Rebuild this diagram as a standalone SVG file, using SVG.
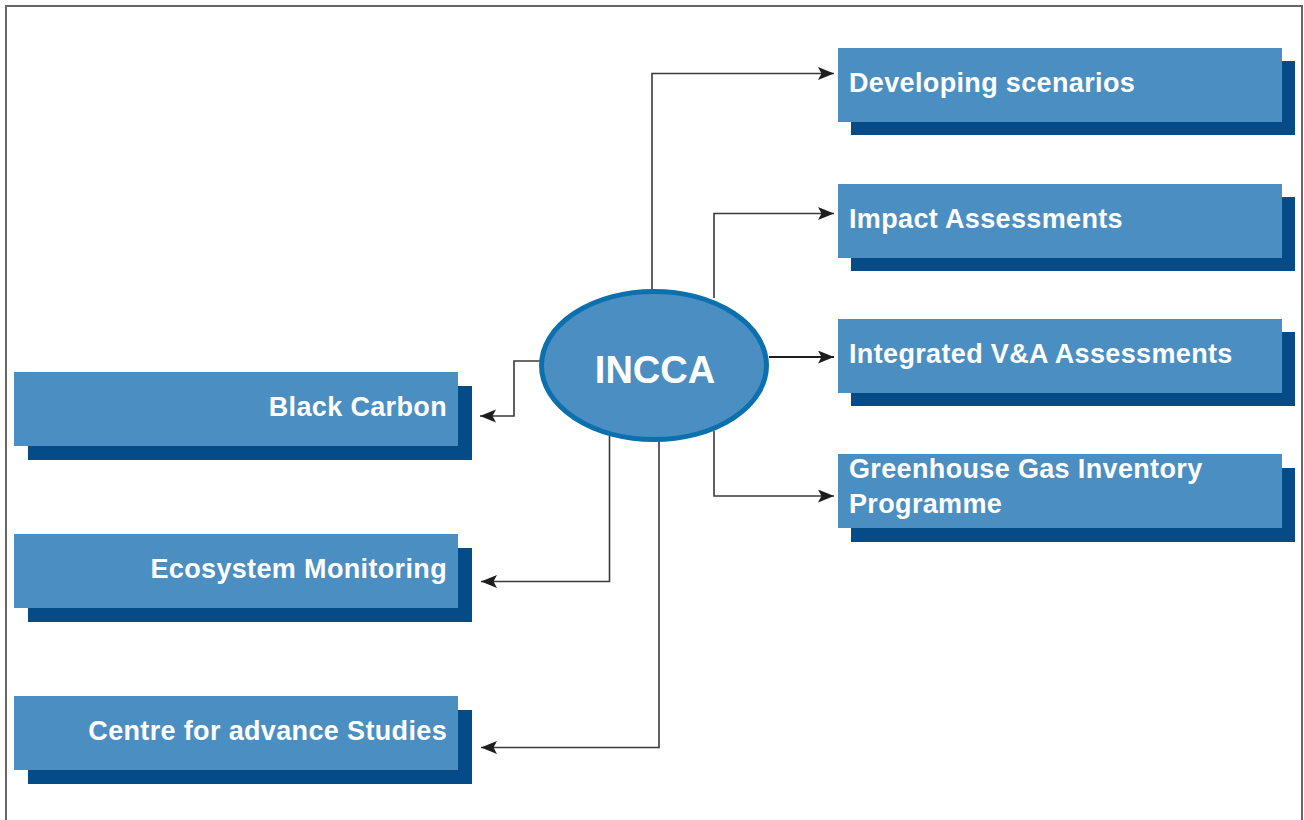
<svg xmlns="http://www.w3.org/2000/svg" width="1304" height="820" viewBox="0 0 1304 820">
  <defs>
    <style>
      .shadow { fill: #044b87; }
      .box { fill: #4b8ec2; }
      .lbl { font-family: "Liberation Sans", Arial, sans-serif; font-weight: bold; font-size: 27px; fill: #ffffff; letter-spacing: 0.35px; }
      .r { text-anchor: end; }
      .conn { fill: none; stroke: #3a3a3a; stroke-width: 1.6; }
      .thick { stroke: #1e1e1e; stroke-width: 2.2; }
    </style>
    <marker id="arr" markerUnits="userSpaceOnUse" markerWidth="18" markerHeight="15" refX="16" refY="6.5" orient="auto">
      <path d="M0,0 L16,6.5 L0,13 L3.5,6.5 Z" fill="#1e1e1e"/>
    </marker>
  </defs>

  <rect x="0" y="0" width="1304" height="820" fill="#ffffff"/>
  <path d="M6,820 V6 H1302 V820" fill="none" stroke="#666666" stroke-width="2"/>

  <g id="connectors">
    <path class="conn" d="M652,290 V73.5 H834" marker-end="url(#arr)"/>
    <path class="conn" d="M714,298 V213.5 H834" marker-end="url(#arr)"/>
    <path class="conn thick" d="M769,357 H834" marker-end="url(#arr)"/>
    <path class="conn" d="M714,431 V496 H834" marker-end="url(#arr)"/>
    <path class="conn" d="M540,361 H514 V416 H480" marker-end="url(#arr)"/>
    <path class="conn" d="M609.5,436 V581.5 H481" marker-end="url(#arr)"/>
    <path class="conn" d="M659,440 V747.5 H481" marker-end="url(#arr)"/>
  </g>

  <g id="incca">
    <ellipse cx="654" cy="365.5" rx="112.5" ry="74" fill="#4b8ec2" stroke="#0c6fae" stroke-width="5"/>
    <text x="655" y="383" text-anchor="middle" font-family="Liberation Sans, Arial, sans-serif" font-weight="bold" font-size="38" fill="#ffffff">INCCA</text>
  </g>

  <g id="developing-scenarios">
    <rect class="shadow" x="851" y="61" width="444" height="74"/>
    <rect class="box" x="838" y="48" width="444" height="74"/>
    <text class="lbl" x="849" y="92">Developing scenarios</text>
  </g>

  <g id="impact-assessments">
    <rect class="shadow" x="851" y="197" width="444" height="74"/>
    <rect class="box" x="838" y="184" width="444" height="74"/>
    <text class="lbl" x="849" y="228">Impact Assessments</text>
  </g>

  <g id="integrated-va">
    <rect class="shadow" x="851" y="332" width="444" height="74"/>
    <rect class="box" x="838" y="319" width="444" height="74"/>
    <text class="lbl" x="849" y="363">Integrated V&amp;A Assessments</text>
  </g>

  <g id="ghg-inventory">
    <rect class="shadow" x="851" y="468" width="444" height="74"/>
    <rect class="box" x="838" y="454" width="444" height="74"/>
    <text class="lbl" x="849" y="478">Greenhouse Gas Inventory</text>
    <text class="lbl" x="849" y="513">Programme</text>
  </g>

  <g id="black-carbon">
    <rect class="shadow" x="28" y="386" width="444" height="74"/>
    <rect class="box" x="14" y="372" width="444" height="74"/>
    <text class="lbl r" x="447" y="416">Black Carbon</text>
  </g>

  <g id="ecosystem-monitoring">
    <rect class="shadow" x="28" y="548" width="444" height="74"/>
    <rect class="box" x="14" y="534" width="444" height="74"/>
    <text class="lbl r" x="447" y="578">Ecosystem Monitoring</text>
  </g>

  <g id="centre-advance-studies">
    <rect class="shadow" x="28" y="710" width="444" height="74"/>
    <rect class="box" x="14" y="696" width="444" height="74"/>
    <text class="lbl r" x="447" y="740">Centre for advance Studies</text>
  </g>
</svg>
